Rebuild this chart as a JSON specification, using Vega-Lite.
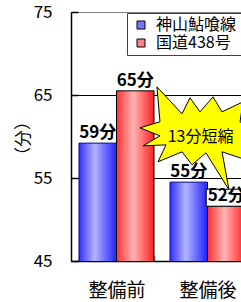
{
  "$schema": "https://vega.github.io/schema/vega-lite/v6.json",
  "autosize": {"type": "none"},
  "padding": {"left": 71, "top": 12, "right": 0, "bottom": 41},
  "width": 182,
  "height": 249,
  "background": "white",
  "config": {
    "font": "Noto Sans CJK JP",
    "view": {"stroke": "#808080", "strokeWidth": 1}
  },
  "datasets": {
    "times": [
      {"period": "整備前", "route": "神山鮎喰線", "minutes": 59.2, "label": "59分"},
      {"period": "整備前", "route": "国道438号", "minutes": 65.5, "label": "65分"},
      {"period": "整備後", "route": "神山鮎喰線", "minutes": 54.5, "label": "55分"},
      {"period": "整備後", "route": "国道438号", "minutes": 51.6, "label": "52分"}
    ],
    "callout": [
      {"period": "整備後", "minutes": 60.2, "note": "13分短縮"}
    ]
  },
  "data": {"name": "times"},
  "encoding": {
    "x": {
      "field": "period", "type": "nominal", "sort": ["整備前", "整備後"],
      "scale": {"domain": ["整備前", "整備後"], "paddingInner": 0.176, "paddingOuter": 0.088},
      "axis": {
        "title": null, "labelAngle": 0, "labelFontSize": 19, "labelColor": "#000",
        "domainColor": "#000", "domainWidth": 1.5,
        "tickBand": "extent", "tickSize": -6, "tickColor": "#808080", "tickWidth": 1.5,
        "labelPadding": 26
      }
    },
    "y": {
      "field": "minutes", "type": "quantitative",
      "scale": {"domain": [45, 75], "nice": false, "zero": false},
      "axis": {
        "values": [45, 55, 65, 75], "title": "（分）",
        "grid": true,
        "gridColor": {"condition": {"test": "datum.value === 75", "value": "#808080"}, "value": "#000"},
        "gridWidth": 1,
        "domainColor": "#000", "domainWidth": 1.5,
        "tickColor": "#000", "tickSize": -7, "tickWidth": 1.5,
        "labelFontSize": 17, "labelColor": "#000", "labelPadding": 26,
        "titleFontSize": 17, "titleFontWeight": "normal", "titleColor": "#000",
        "titleAngle": -90, "titleX": -48, "titleY": 126, "titleBaseline": "middle", "titleAlign": "center"
      }
    }
  },
  "layer": [
    {
      "transform": [{"filter": "datum.route === '神山鮎喰線'"}],
      "mark": {
        "type": "bar", "clip": true,
        "fill": {"gradient": "linear", "x1": 0, "y1": 0, "x2": 1, "y2": 0,
          "stops": [{"offset": 0, "color": "#3030ff"}, {"offset": 0.42, "color": "#b4b4ff"}, {"offset": 1, "color": "#2020ff"}]},
        "stroke": "#000080", "strokeWidth": 1
      },
      "encoding": {
        "xOffset": {"field": "route", "type": "nominal", "scale": {"domain": ["神山鮎喰線", "国道438号"]}}
      }
    },
    {
      "transform": [{"filter": "datum.route === '国道438号'"}],
      "mark": {
        "type": "bar", "clip": true,
        "fill": {"gradient": "linear", "x1": 0, "y1": 0, "x2": 1, "y2": 0,
          "stops": [{"offset": 0, "color": "#ff3030"}, {"offset": 0.45, "color": "#ffb4b4"}, {"offset": 1, "color": "#ff2020"}]},
        "stroke": "#000", "strokeWidth": 1
      },
      "encoding": {
        "xOffset": {"field": "route", "type": "nominal", "scale": {"domain": ["神山鮎喰線", "国道438号"]}}
      }
    },
    {
      "transform": [{"filter": "datum.minutes < 0"}],
      "mark": {"type": "point", "shape": "square", "filled": true, "opacity": 1},
      "encoding": {
        "xOffset": {"field": "route", "type": "nominal", "scale": {"domain": ["神山鮎喰線", "国道438号"]}},
        "color": {
          "field": "route", "type": "nominal",
          "scale": {"domain": ["神山鮎喰線", "国道438号"], "range": ["#7878ff", "#ff8080"]},
          "legend": {
            "title": null, "orient": "none", "legendX": 56, "legendY": 1,
            "strokeColor": "#404040", "fillColor": "#fff", "padding": 4,
            "symbolType": "square", "symbolSize": 64, "symbolStrokeColor": "#000", "symbolStrokeWidth": 1,
            "symbolOffset": 2, "labelFontSize": 16, "labelOffset": 7, "rowPadding": 2,
            "labelColor": "#000", "labelLimit": 0
          }
        }
      }
    },
    {
      "data": {"name": "callout"},
      "mark": {
        "type": "point", "filled": true, "fill": "#ffff00", "stroke": "#000", "strokeWidth": 1, "opacity": 1,
        "size": 14400, "xOffset": -7.5,
        "shape": "M -1 -0.117 L -0.667 -0.217 L -0.717 -0.8 L -0.3 -0.35 L -0.167 -0.617 L 0 -0.383 L 0.217 -0.633 L 0.367 -0.383 L 0.717 -0.55 L 0.667 -0.217 L 0.967 -0.033 L 0.7 0.167 L 0.867 0.45 L 0.367 0.283 L 0.483 0.917 L 0.1 0.3 L -0.133 0.5 L -0.3 0.283 L -0.7 0.45 L -0.567 0.167 L -0.95 0.183 L -0.667 0.017 Z"
      }
    },
    {
      "data": {"name": "callout"},
      "mark": {"type": "text", "fontSize": 16, "color": "#000", "align": "center", "baseline": "middle", "xOffset": -7, "dy": 2},
      "encoding": {"text": {"field": "note"}}
    },
    {
      "transform": [{"filter": "datum.label === '52分'"}],
      "mark": {
        "type": "point", "filled": true, "fill": "#fff", "stroke": "#000", "strokeWidth": 1, "opacity": 1,
        "size": 1600, "yOffset": -8.5,
        "shape": "M -1 -0.425 L 1 -0.425 L 1 0.425 L -1 0.425 Z"
      },
      "encoding": {
        "xOffset": {"field": "route", "type": "nominal", "scale": {"domain": ["神山鮎喰線", "国道438号"]}}
      }
    },
    {
      "mark": {"type": "text", "fontSize": 17, "fontWeight": "bold", "color": "#000", "baseline": "bottom", "dy": -1},
      "encoding": {
        "xOffset": {"field": "route", "type": "nominal", "scale": {"domain": ["神山鮎喰線", "国道438号"]}},
        "text": {"field": "label"}
      }
    }
  ]
}
